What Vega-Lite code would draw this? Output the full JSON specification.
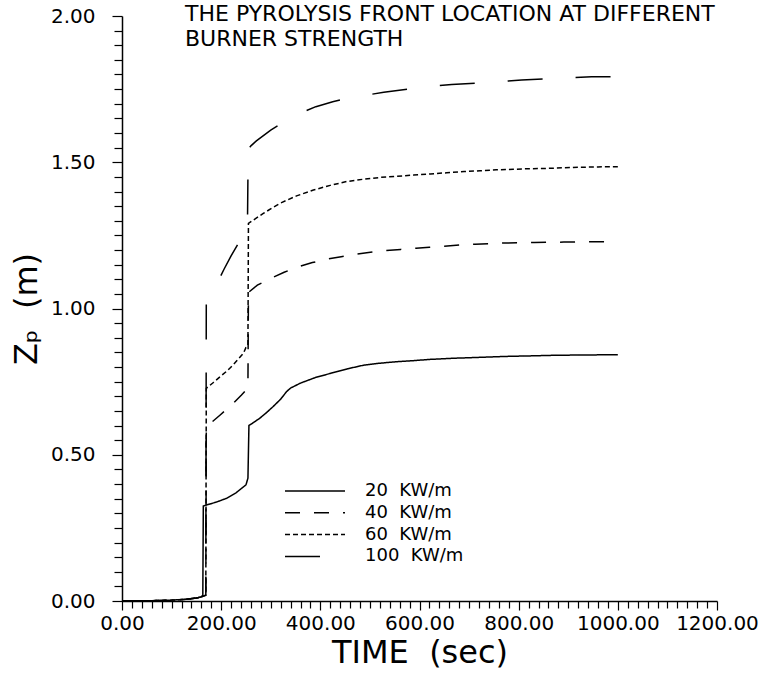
{
  "$schema": "https://vega.github.io/schema/vega-lite/v6.json",
  "width": 595,
  "height": 585,
  "autosize": {"type": "none"},
  "padding": {"left": 122, "top": 16, "right": 43, "bottom": 74},
  "background": "white",
  "config": {"view": {"stroke": null}, "font": "DejaVu Sans"},
  "title": {
    "text": ["THE PYROLYSIS FRONT LOCATION AT DIFFERENT", "BURNER STRENGTH"],
    "anchor": "start",
    "frame": "group",
    "orient": "top",
    "baseline": "top",
    "offset": 0,
    "dx": 63,
    "dy": 45,
    "font": "DejaVu Sans",
    "fontSize": 22,
    "fontWeight": "normal",
    "lineHeight": 25,
    "color": "black"
  },
  "data": {
    "values": [
      {"s": "20\u00a0\u00a0KW/m", "t": 0, "z": 0},
      {"s": "20\u00a0\u00a0KW/m", "t": 60, "z": 0.001},
      {"s": "20\u00a0\u00a0KW/m", "t": 100, "z": 0.003},
      {"s": "20\u00a0\u00a0KW/m", "t": 130, "z": 0.006},
      {"s": "20\u00a0\u00a0KW/m", "t": 150, "z": 0.01},
      {"s": "20\u00a0\u00a0KW/m", "t": 160, "z": 0.014},
      {"s": "20\u00a0\u00a0KW/m", "t": 163, "z": 0.02},
      {"s": "20\u00a0\u00a0KW/m", "t": 164, "z": 0.325},
      {"s": "20\u00a0\u00a0KW/m", "t": 170, "z": 0.328},
      {"s": "20\u00a0\u00a0KW/m", "t": 190, "z": 0.338},
      {"s": "20\u00a0\u00a0KW/m", "t": 211, "z": 0.351},
      {"s": "20\u00a0\u00a0KW/m", "t": 230, "z": 0.37},
      {"s": "20\u00a0\u00a0KW/m", "t": 250, "z": 0.397},
      {"s": "20\u00a0\u00a0KW/m", "t": 254, "z": 0.42},
      {"s": "20\u00a0\u00a0KW/m", "t": 256, "z": 0.6},
      {"s": "20\u00a0\u00a0KW/m", "t": 265, "z": 0.61},
      {"s": "20\u00a0\u00a0KW/m", "t": 278, "z": 0.625},
      {"s": "20\u00a0\u00a0KW/m", "t": 292, "z": 0.645},
      {"s": "20\u00a0\u00a0KW/m", "t": 305, "z": 0.665},
      {"s": "20\u00a0\u00a0KW/m", "t": 320, "z": 0.69},
      {"s": "20\u00a0\u00a0KW/m", "t": 332, "z": 0.716},
      {"s": "20\u00a0\u00a0KW/m", "t": 340, "z": 0.728},
      {"s": "20\u00a0\u00a0KW/m", "t": 360, "z": 0.745},
      {"s": "20\u00a0\u00a0KW/m", "t": 390, "z": 0.764},
      {"s": "20\u00a0\u00a0KW/m", "t": 420, "z": 0.778},
      {"s": "20\u00a0\u00a0KW/m", "t": 455, "z": 0.794},
      {"s": "20\u00a0\u00a0KW/m", "t": 487, "z": 0.806},
      {"s": "20\u00a0\u00a0KW/m", "t": 520, "z": 0.813},
      {"s": "20\u00a0\u00a0KW/m", "t": 554, "z": 0.818},
      {"s": "20\u00a0\u00a0KW/m", "t": 590, "z": 0.822},
      {"s": "20\u00a0\u00a0KW/m", "t": 621, "z": 0.826},
      {"s": "20\u00a0\u00a0KW/m", "t": 670, "z": 0.83},
      {"s": "20\u00a0\u00a0KW/m", "t": 722, "z": 0.833},
      {"s": "20\u00a0\u00a0KW/m", "t": 770, "z": 0.836},
      {"s": "20\u00a0\u00a0KW/m", "t": 823, "z": 0.838},
      {"s": "20\u00a0\u00a0KW/m", "t": 870, "z": 0.84},
      {"s": "20\u00a0\u00a0KW/m", "t": 924, "z": 0.841},
      {"s": "20\u00a0\u00a0KW/m", "t": 1000, "z": 0.842},

      {"s": "40\u00a0\u00a0KW/m", "t": 0, "z": 0},
      {"s": "40\u00a0\u00a0KW/m", "t": 60, "z": 0.001},
      {"s": "40\u00a0\u00a0KW/m", "t": 100, "z": 0.003},
      {"s": "40\u00a0\u00a0KW/m", "t": 130, "z": 0.006},
      {"s": "40\u00a0\u00a0KW/m", "t": 150, "z": 0.01},
      {"s": "40\u00a0\u00a0KW/m", "t": 160, "z": 0.014},
      {"s": "40\u00a0\u00a0KW/m", "t": 169, "z": 0.02},
      {"s": "40\u00a0\u00a0KW/m", "t": 170, "z": 0.596},
      {"s": "40\u00a0\u00a0KW/m", "t": 185, "z": 0.617},
      {"s": "40\u00a0\u00a0KW/m", "t": 198, "z": 0.636},
      {"s": "40\u00a0\u00a0KW/m", "t": 221, "z": 0.67},
      {"s": "40\u00a0\u00a0KW/m", "t": 241, "z": 0.704},
      {"s": "40\u00a0\u00a0KW/m", "t": 250, "z": 0.721},
      {"s": "40\u00a0\u00a0KW/m", "t": 254, "z": 0.74},
      {"s": "40\u00a0\u00a0KW/m", "t": 255, "z": 1.055},
      {"s": "40\u00a0\u00a0KW/m", "t": 273, "z": 1.08},
      {"s": "40\u00a0\u00a0KW/m", "t": 300, "z": 1.103},
      {"s": "40\u00a0\u00a0KW/m", "t": 327, "z": 1.124},
      {"s": "40\u00a0\u00a0KW/m", "t": 356, "z": 1.143},
      {"s": "40\u00a0\u00a0KW/m", "t": 384, "z": 1.157},
      {"s": "40\u00a0\u00a0KW/m", "t": 414, "z": 1.169},
      {"s": "40\u00a0\u00a0KW/m", "t": 442, "z": 1.177},
      {"s": "40\u00a0\u00a0KW/m", "t": 473, "z": 1.186},
      {"s": "40\u00a0\u00a0KW/m", "t": 501, "z": 1.192},
      {"s": "40\u00a0\u00a0KW/m", "t": 532, "z": 1.198},
      {"s": "40\u00a0\u00a0KW/m", "t": 562, "z": 1.202},
      {"s": "40\u00a0\u00a0KW/m", "t": 593, "z": 1.206},
      {"s": "40\u00a0\u00a0KW/m", "t": 620, "z": 1.209},
      {"s": "40\u00a0\u00a0KW/m", "t": 650, "z": 1.213},
      {"s": "40\u00a0\u00a0KW/m", "t": 682, "z": 1.217},
      {"s": "40\u00a0\u00a0KW/m", "t": 712, "z": 1.22},
      {"s": "40\u00a0\u00a0KW/m", "t": 742, "z": 1.222},
      {"s": "40\u00a0\u00a0KW/m", "t": 772, "z": 1.224},
      {"s": "40\u00a0\u00a0KW/m", "t": 802, "z": 1.225},
      {"s": "40\u00a0\u00a0KW/m", "t": 832, "z": 1.226},
      {"s": "40\u00a0\u00a0KW/m", "t": 891, "z": 1.227},
      {"s": "40\u00a0\u00a0KW/m", "t": 951, "z": 1.228},
      {"s": "40\u00a0\u00a0KW/m", "t": 1000, "z": 1.229},

      {"s": "60\u00a0\u00a0KW/m", "t": 0, "z": 0},
      {"s": "60\u00a0\u00a0KW/m", "t": 60, "z": 0.001},
      {"s": "60\u00a0\u00a0KW/m", "t": 100, "z": 0.003},
      {"s": "60\u00a0\u00a0KW/m", "t": 130, "z": 0.006},
      {"s": "60\u00a0\u00a0KW/m", "t": 150, "z": 0.01},
      {"s": "60\u00a0\u00a0KW/m", "t": 160, "z": 0.014},
      {"s": "60\u00a0\u00a0KW/m", "t": 169, "z": 0.02},
      {"s": "60\u00a0\u00a0KW/m", "t": 170, "z": 0.727},
      {"s": "60\u00a0\u00a0KW/m", "t": 185, "z": 0.748},
      {"s": "60\u00a0\u00a0KW/m", "t": 198, "z": 0.767},
      {"s": "60\u00a0\u00a0KW/m", "t": 212, "z": 0.787},
      {"s": "60\u00a0\u00a0KW/m", "t": 224, "z": 0.807},
      {"s": "60\u00a0\u00a0KW/m", "t": 235, "z": 0.828},
      {"s": "60\u00a0\u00a0KW/m", "t": 245, "z": 0.847},
      {"s": "60\u00a0\u00a0KW/m", "t": 250, "z": 0.867},
      {"s": "60\u00a0\u00a0KW/m", "t": 254, "z": 0.875},
      {"s": "60\u00a0\u00a0KW/m", "t": 255, "z": 1.291},
      {"s": "60\u00a0\u00a0KW/m", "t": 270, "z": 1.308},
      {"s": "60\u00a0\u00a0KW/m", "t": 285, "z": 1.325},
      {"s": "60\u00a0\u00a0KW/m", "t": 302, "z": 1.343},
      {"s": "60\u00a0\u00a0KW/m", "t": 319, "z": 1.36},
      {"s": "60\u00a0\u00a0KW/m", "t": 352, "z": 1.385},
      {"s": "60\u00a0\u00a0KW/m", "t": 386, "z": 1.405},
      {"s": "60\u00a0\u00a0KW/m", "t": 420, "z": 1.421},
      {"s": "60\u00a0\u00a0KW/m", "t": 453, "z": 1.434},
      {"s": "60\u00a0\u00a0KW/m", "t": 487, "z": 1.442},
      {"s": "60\u00a0\u00a0KW/m", "t": 520, "z": 1.448},
      {"s": "60\u00a0\u00a0KW/m", "t": 555, "z": 1.452},
      {"s": "60\u00a0\u00a0KW/m", "t": 588, "z": 1.456},
      {"s": "60\u00a0\u00a0KW/m", "t": 622, "z": 1.46},
      {"s": "60\u00a0\u00a0KW/m", "t": 655, "z": 1.464},
      {"s": "60\u00a0\u00a0KW/m", "t": 690, "z": 1.468},
      {"s": "60\u00a0\u00a0KW/m", "t": 722, "z": 1.471},
      {"s": "60\u00a0\u00a0KW/m", "t": 755, "z": 1.474},
      {"s": "60\u00a0\u00a0KW/m", "t": 789, "z": 1.476},
      {"s": "60\u00a0\u00a0KW/m", "t": 823, "z": 1.478},
      {"s": "60\u00a0\u00a0KW/m", "t": 857, "z": 1.479},
      {"s": "60\u00a0\u00a0KW/m", "t": 890, "z": 1.481},
      {"s": "60\u00a0\u00a0KW/m", "t": 924, "z": 1.483},
      {"s": "60\u00a0\u00a0KW/m", "t": 960, "z": 1.484},
      {"s": "60\u00a0\u00a0KW/m", "t": 1000, "z": 1.485},

      {"s": "100\u00a0\u00a0KW/m", "t": 0, "z": 0},
      {"s": "100\u00a0\u00a0KW/m", "t": 60, "z": 0.001},
      {"s": "100\u00a0\u00a0KW/m", "t": 100, "z": 0.003},
      {"s": "100\u00a0\u00a0KW/m", "t": 130, "z": 0.006},
      {"s": "100\u00a0\u00a0KW/m", "t": 150, "z": 0.01},
      {"s": "100\u00a0\u00a0KW/m", "t": 160, "z": 0.014},
      {"s": "100\u00a0\u00a0KW/m", "t": 169, "z": 0.02},
      {"s": "100\u00a0\u00a0KW/m", "t": 170, "z": 1.03},
      {"s": "100\u00a0\u00a0KW/m", "t": 190, "z": 1.08},
      {"s": "100\u00a0\u00a0KW/m", "t": 206, "z": 1.135},
      {"s": "100\u00a0\u00a0KW/m", "t": 220, "z": 1.18},
      {"s": "100\u00a0\u00a0KW/m", "t": 240, "z": 1.238},
      {"s": "100\u00a0\u00a0KW/m", "t": 253, "z": 1.275},
      {"s": "100\u00a0\u00a0KW/m", "t": 254.5, "z": 1.545},
      {"s": "100\u00a0\u00a0KW/m", "t": 260, "z": 1.556},
      {"s": "100\u00a0\u00a0KW/m", "t": 271, "z": 1.573},
      {"s": "100\u00a0\u00a0KW/m", "t": 300, "z": 1.61},
      {"s": "100\u00a0\u00a0KW/m", "t": 331, "z": 1.642},
      {"s": "100\u00a0\u00a0KW/m", "t": 360, "z": 1.668},
      {"s": "100\u00a0\u00a0KW/m", "t": 391, "z": 1.69},
      {"s": "100\u00a0\u00a0KW/m", "t": 425, "z": 1.707},
      {"s": "100\u00a0\u00a0KW/m", "t": 460, "z": 1.721},
      {"s": "100\u00a0\u00a0KW/m", "t": 528, "z": 1.739},
      {"s": "100\u00a0\u00a0KW/m", "t": 598, "z": 1.755},
      {"s": "100\u00a0\u00a0KW/m", "t": 665, "z": 1.766},
      {"s": "100\u00a0\u00a0KW/m", "t": 739, "z": 1.773},
      {"s": "100\u00a0\u00a0KW/m", "t": 806, "z": 1.781},
      {"s": "100\u00a0\u00a0KW/m", "t": 879, "z": 1.787},
      {"s": "100\u00a0\u00a0KW/m", "t": 947, "z": 1.792},
      {"s": "100\u00a0\u00a0KW/m", "t": 1000, "z": 1.793}
    ]
  },
  "mark": {"type": "line", "color": "black", "strokeWidth": 1.5, "interpolate": "linear"},
  "encoding": {
    "x": {
      "field": "t",
      "type": "quantitative",
      "scale": {"domain": [0, 1200], "nice": false, "zero": false},
      "axis": {
        "title": "TIME\u00a0\u00a0(sec)",
        "titleFont": "DejaVu Sans",
        "titleFontSize": 32,
        "titleFontWeight": "normal",
        "titleColor": "black",
        "titlePadding": 4,
        "values": [0,20,40,60,80,100,120,140,160,180,200,220,240,260,280,300,320,340,360,380,400,420,440,460,480,500,520,540,560,580,600,620,640,660,680,700,720,740,760,780,800,820,840,860,880,900,920,940,960,980,1000,1020,1040,1060,1080,1100,1120,1140,1160,1180,1200],
        "labelExpr": "datum.value % 200 === 0 ? format(datum.value, '.2f') : ''",
        "labelOverlap": false,
        "labelFlush": false,
        "labelFont": "DejaVu Sans",
        "labelFontSize": 20,
        "labelColor": "black",
        "labelPadding": 3,
        "tickSize": {"condition": {"test": "datum.value % 200 === 0", "value": 9}, "value": 7},
        "tickColor": "black",
        "tickWidth": 1.2,
        "domainColor": "black",
        "domainWidth": 1.5,
        "grid": false
      }
    },
    "y": {
      "field": "z",
      "type": "quantitative",
      "scale": {"domain": [0, 2], "nice": false},
      "axis": {
        "title": "Zₚ\u00a0\u00a0(m)",
        "titleFont": "DejaVu Sans",
        "titleFontSize": 32,
        "titleFontWeight": "normal",
        "titleColor": "black",
        "titlePadding": 7,
        "values": [0,0.05,0.1,0.15,0.2,0.25,0.3,0.35,0.4,0.45,0.5,0.55,0.6,0.65,0.7,0.75,0.8,0.85,0.9,0.95,1,1.05,1.1,1.15,1.2,1.25,1.3,1.35,1.4,1.45,1.5,1.55,1.6,1.65,1.7,1.75,1.8,1.85,1.9,1.95,2],
        "labelExpr": "abs(datum.value * 2 - round(datum.value * 2)) < 0.001 ? format(datum.value, '.2f') : ''",
        "labelOverlap": false,
        "labelFlush": false,
        "labelFont": "DejaVu Sans",
        "labelFontSize": 20,
        "labelColor": "black",
        "labelPadding": 17,
        "tickSize": {"condition": {"test": "abs(datum.value * 2 - round(datum.value * 2)) < 0.001", "value": 10}, "value": 8},
        "tickColor": "black",
        "tickWidth": 1.2,
        "domainColor": "black",
        "domainWidth": 1.5,
        "grid": false
      }
    },
    "strokeDash": {
      "field": "s",
      "type": "nominal",
      "scale": {
        "domain": ["20\u00a0\u00a0KW/m", "40\u00a0\u00a0KW/m", "60\u00a0\u00a0KW/m", "100\u00a0\u00a0KW/m"],
        "range": [[1, 0], [15, 14], [5, 3], [35, 33]]
      },
      "legend": {
        "title": null,
        "orient": "none",
        "legendX": 184,
        "legendY": 466,
        "padding": 0,
        "symbolType": "M-6,0H6",
        "symbolSize": 100,
        "symbolStrokeWidth": 1.5,
        "symbolStrokeColor": "black",
        "labelFont": "DejaVu Sans",
        "labelFontSize": 18,
        "labelColor": "black",
        "labelOffset": 41,
        "rowPadding": 3.8
      }
    }
  }
}
